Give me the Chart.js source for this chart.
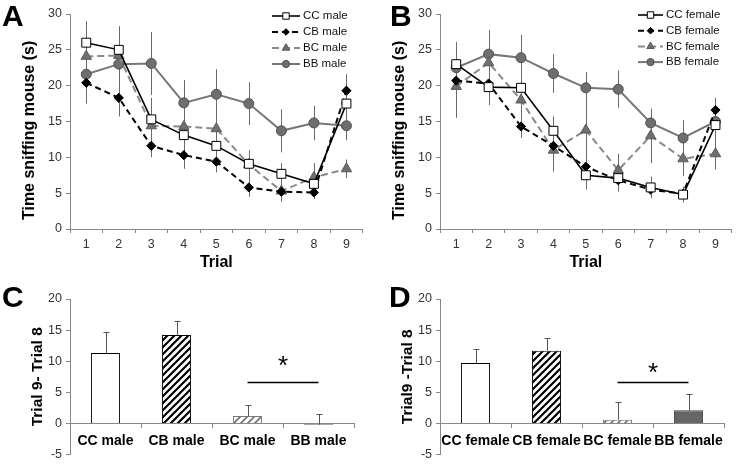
<!DOCTYPE html>
<html>
<head>
<meta charset="utf-8">
<script src="https://cdn.jsdelivr.net/npm/chart.js@4.4.1/dist/chart.umd.min.js"></script>
<style>
  body { margin: 0; background: #fff; }
  #page { position: relative; width: 739px; height: 466px; overflow: hidden; }
  canvas { position: absolute; }
  .tag { position: absolute; font: bold 30px "Liberation Sans", Arial, sans-serif; line-height: 30px; color: #000; }
</style>
</head>
<body>
<div id="page">
  <canvas id="chartA" width="370" height="272" style="left:0;top:0"></canvas>
  <canvas id="chartB" width="369" height="272" style="left:370px;top:0"></canvas>
  <canvas id="chartC" width="370" height="194" style="left:0;top:272px"></canvas>
  <canvas id="chartD" width="369" height="194" style="left:370px;top:272px"></canvas>
  <div class="tag" style="left:2px;top:1px">A</div>
  <div class="tag" style="left:390px;top:1px">B</div>
  <div class="tag" style="left:2px;top:282px">C</div>
  <div class="tag" style="left:389px;top:282px">D</div>
</div>
<script>
Chart.defaults.font.family = "'Liberation Sans', Arial, sans-serif";
Chart.defaults.color = '#333';

const trials = ['1', '2', '3', '4', '5', '6', '7', '8', '9'];

// A - males, mean and SEM per trial
const ccMale = [26.0, 25.0, 15.3, 13.1, 11.6, 9.1, 7.7, 6.3, 17.5];
const cbMale = [20.4, 18.3, 11.6, 10.3, 9.4, 5.8, 5.2, 5.1, 19.3];
const bcMale = [24.1, 24.2, 14.4, 14.3, 14.0, 9.0, 5.3, 7.2, 8.4];
const bbMale = [21.6, 23.0, 23.1, 17.6, 18.8, 17.5, 13.7, 14.8, 14.4];
const ccMaleErr = [3.0, 3.2, 3.0, 2.2, 2.3, 1.8, 1.5, 1.2, 3.0];
const cbMaleErr = [2.9, 2.6, 1.6, 1.9, 1.5, 1.3, 1.3, 0.9, 2.3];
const bcMaleErr = [2.0, 2.0, 2.5, 2.0, 3.0, 2.0, 1.5, 2.0, 1.3];
const bbMaleErr = [2.5, 5.3, 4.4, 3.2, 3.5, 3.0, 3.0, 2.4, 2.0];

// B - females
const ccFemale = [23.0, 19.8, 19.7, 13.7, 7.5, 7.1, 5.8, 4.8, 14.5];
const cbFemale = [20.7, 20.3, 14.3, 11.6, 8.7, 6.8, 5.5, 4.9, 16.6];
const bcFemale = [19.9, 23.2, 18.0, 11.0, 13.8, 8.2, 13.0, 9.8, 10.5];
const bbFemale = [22.5, 24.4, 23.9, 21.7, 19.7, 19.5, 14.8, 12.7, 15.0];
const ccFemaleErr = [2.0, 2.5, 2.5, 2.0, 2.0, 1.5, 1.5, 1.1, 2.0];
const cbFemaleErr = [1.5, 1.5, 1.6, 1.6, 1.5, 1.6, 1.0, 1.0, 1.7];
const bcFemaleErr = [4.4, 3.0, 3.0, 3.0, 8.1, 2.3, 3.8, 2.4, 2.2];
const bbFemaleErr = [3.6, 3.4, 3.2, 2.7, 1.9, 2.6, 1.9, 2.5, 2.0];

// C / D - difference trial 9 minus trial 8
const maleGroups = ['CC male', 'CB male', 'BC male', 'BB male'];
const femaleGroups = ['CC female', 'CB female', 'BC female', 'BB female'];
const maleDiff = [11.3, 14.2, 1.2, -0.2];
const maleDiffErr = [3.4, 2.3, 1.7, 1.7];
const femaleDiff = [9.7, 11.7, 0.6, 2.1];
const femaleDiffErr = [2.2, 2.0, 2.8, 2.6];

// significance bracket: from group, to group, line level, star level
const sigMale = [2, 3, 6.6, 9.1];
const sigFemale = [2, 3, 6.7, 8.0];

const styles = {
  CC: { borderColor: '#000', borderWidth: 1.6, pointStyle: 'rect', pointRadius: 6.3,
        pointBackgroundColor: '#fff', pointBorderColor: '#000' },
  CB: { borderColor: '#000', borderWidth: 2, borderDash: [6, 4], pointStyle: 'rectRot', pointRadius: 4.6,
        pointBackgroundColor: '#000', pointBorderColor: '#000' },
  BC: { borderColor: '#8a8a8a', borderWidth: 2, borderDash: [7, 4], pointStyle: 'triangle', pointRadius: 6,
        pointBackgroundColor: '#6f6f6f', pointBorderColor: '#5a5a5a' },
  BB: { borderColor: '#777', borderWidth: 2, pointStyle: 'circle', pointRadius: 5,
        pointBackgroundColor: '#6e6e6e', pointBorderColor: '#505050' }
};

// vertical error bars drawn through the y scale
const errorBars = {
  id: 'errorBars',
  beforeDatasetsDraw(chart, args, opts) { if (opts.behind) drawErrors(chart, opts); },
  afterDatasetsDraw(chart, args, opts) { if (!opts.behind) drawErrors(chart, opts); }
};

function drawErrors(chart, opts) {
  const ctx = chart.ctx;
  const y = chart.scales.y;
  ctx.save();
  ctx.strokeStyle = opts.color;
  ctx.lineWidth = 1;
  chart.data.datasets.forEach((ds, i) => {
    if (!ds.errors) return;
    chart.getDatasetMeta(i).data.forEach((el, j) => {
      const v = ds.data[j], e = ds.errors[j];
      const top = y.getPixelForValue(v + e);
      const bot = opts.upOnly ? y.getPixelForValue(v) : y.getPixelForValue(v - e);
      const x = Math.round(el.x) + 0.5;
      ctx.beginPath();
      ctx.moveTo(x, top);
      ctx.lineTo(x, bot);
      if (opts.cap) {
        ctx.moveTo(x - opts.cap, Math.round(top) + 0.5);
        ctx.lineTo(x + opts.cap, Math.round(top) + 0.5);
      }
      ctx.stroke();
    });
  });
  ctx.restore();
}

// legend drawn inside the plot, top right
const insideLegend = {
  id: 'insideLegend',
  afterDatasetsDraw(chart, args, o) {
    const ctx = chart.ctx;
    ctx.save();
    ctx.font = '11.5px "Liberation Sans", Arial, sans-serif';
    ctx.textBaseline = 'middle';
    chart.data.datasets.forEach((ds, i) => {
      const y = o.y + i * o.dy;
      ctx.setLineDash(ds.borderDash || []);
      ctx.strokeStyle = ds.borderColor;
      ctx.lineWidth = ds.borderWidth;
      ctx.beginPath();
      ctx.moveTo(o.x, y);
      ctx.lineTo(o.x + o.w, y);
      ctx.stroke();
      ctx.setLineDash([]);
      ctx.fillStyle = ds.pointBackgroundColor;
      ctx.strokeStyle = ds.pointBorderColor;
      ctx.lineWidth = 1;
      Chart.helpers.drawPoint(ctx, { pointStyle: ds.pointStyle, radius: ds.pointRadius * 0.72, rotation: 0, borderWidth: 1 },
        o.x + o.w / 2, y);
      ctx.fillStyle = '#111';
      ctx.fillText(ds.label, o.x + o.w + 3, y);
    });
    ctx.restore();
  }
};

// line + star over the two B-mother groups
const sigBracket = {
  id: 'sigBracket',
  afterDatasetsDraw(chart, args, o) {
    const xs = chart.scales.x, ys = chart.scales.y, ctx = chart.ctx;
    const x1 = xs.getPixelForValue(o.sig[0]), x2 = xs.getPixelForValue(o.sig[1]);
    const yy = Math.round(ys.getPixelForValue(o.sig[2])) + 0.5;
    ctx.save();
    ctx.strokeStyle = '#000';
    ctx.lineWidth = 1.3;
    ctx.beginPath();
    ctx.moveTo(x1, yy);
    ctx.lineTo(x2, yy);
    ctx.stroke();
    ctx.font = '26px "Liberation Sans", Arial, sans-serif';
    ctx.textAlign = 'center';
    ctx.textBaseline = 'middle';
    ctx.fillStyle = '#000';
    ctx.fillText('*', (x1 + x2) / 2, ys.getPixelForValue(o.sig[3]));
    ctx.restore();
  }
};

function series(label, data, errors, style) {
  return Object.assign({ label: label, data: data, errors: errors, tension: 0, pointBorderWidth: 1, fill: false }, style);
}

function lineChart(id, datasets, legendPos, padRight) {
  new Chart(document.getElementById(id), {
    type: 'line',
    data: { labels: trials, datasets: datasets },
    options: {
      responsive: false,
      animation: false,
      layout: { padding: { left: 0, right: padRight, top: 14, bottom: 0 } },
      plugins: {
        legend: { display: false },
        tooltip: { enabled: false },
        errorBars: { behind: true, color: '#6a6a6a' },
        insideLegend: legendPos
      },
      scales: {
        x: {
          offset: true,
          grid: { offset: true, drawOnChartArea: false, tickLength: 4, color: '#888' },
          border: { color: '#888' },
          ticks: { font: { size: 12.5 }, padding: 4, color: '#333' },
          title: { display: true, text: 'Trial', color: '#000', font: { size: 16, weight: 'bold' }, padding: { top: 0, bottom: 0 } },
          afterFit: s => { s.height = 43; }
        },
        y: {
          min: 0, max: 30,
          ticks: { stepSize: 5, font: { size: 12.5 }, padding: 4, color: '#333' },
          grid: { drawOnChartArea: false, tickLength: 4, color: '#888' },
          border: { color: '#888' },
          // trailing spaces push the rotated title a little lower, as in the figure
          title: { display: true, text: 'Time sniffing mouse (s)    ', color: '#000', font: { size: 16, weight: 'bold' }, padding: { top: 20, bottom: 0 } },
          afterFit: s => { s.width = 70; }
        }
      }
    },
    plugins: [errorBars, insideLegend]
  });
}

lineChart('chartA', [
  series('CC male', ccMale, ccMaleErr, styles.CC),
  series('CB male', cbMale, cbMaleErr, styles.CB),
  series('BC male', bcMale, bcMaleErr, styles.BC),
  series('BB male', bbMale, bbMaleErr, styles.BB)
], { x: 272, w: 28, y: 16, dy: 16 }, 4);

lineChart('chartB', [
  series('CC female', ccFemale, ccFemaleErr, styles.CC),
  series('CB female', cbFemale, cbFemaleErr, styles.CB),
  series('BC female', bcFemale, bcFemaleErr, styles.BC),
  series('BB female', bbFemale, bbFemaleErr, styles.BB)
], { x: 268, w: 25, y: 15, dy: 15.7 }, 3);

function hatch(color, width) {
  const c = document.createElement('canvas');
  c.width = 7; c.height = 7;
  const g = c.getContext('2d');
  g.fillStyle = '#fff';
  g.fillRect(0, 0, 7, 7);
  g.strokeStyle = color;
  g.lineWidth = width;
  g.beginPath();
  g.moveTo(-1, 8); g.lineTo(8, -1);
  g.moveTo(-4.5, 4.5); g.lineTo(4.5, -4.5);
  g.moveTo(2.5, 11.5); g.lineTo(11.5, 2.5);
  g.stroke();
  return g.createPattern(c, 'repeat');
}

function barChart(id, labels, values, errors, sig, title, padRight) {
  const canvas = document.getElementById(id);
  const fills = ['#fff', hatch('#000', 2.2), hatch('#777', 1.8), '#666'];
  new Chart(canvas, {
    type: 'bar',
    data: {
      labels: labels,
      datasets: [{
        data: values,
        errors: errors,
        backgroundColor: fills,
        borderColor: ['#000', '#000', '#777', '#444'],
        borderWidth: 1,
        barPercentage: 0.41,
        categoryPercentage: 1
      }]
    },
    options: {
      responsive: false,
      animation: false,
      layout: { padding: { left: 0, right: padRight, top: 27, bottom: 6 } },
      plugins: {
        legend: { display: false },
        tooltip: { enabled: false },
        errorBars: { behind: false, upOnly: true, cap: 3, color: '#555' },
        sigBracket: { sig: sig }
      },
      scales: {
        x: {
          position: { y: 0 },
          grid: { offset: true, drawOnChartArea: false, tickLength: 4, color: '#888' },
          border: { color: '#888' },
          ticks: { font: { size: 14, weight: 'bold' }, color: '#000', padding: 5, maxRotation: 0, autoSkip: false }
        },
        y: {
          min: -5, max: 20,
          ticks: { stepSize: 5, font: { size: 12.5 }, padding: 4, color: '#333' },
          grid: { drawOnChartArea: false, tickLength: 4, color: '#888' },
          border: { color: '#888' },
          title: { display: true, text: title, color: '#000', font: { size: 15.5, weight: 'bold' }, padding: { top: 28, bottom: 0 } },
          afterFit: s => { s.width = 70; }
        }
      }
    },
    plugins: [errorBars, sigBracket]
  });
}

barChart('chartC', maleGroups, maleDiff, maleDiffErr, sigMale, 'Trial 9- Trial 8', 16);
barChart('chartD', femaleGroups, femaleDiff, femaleDiffErr, sigFemale, 'Trial9 -Trial 8', 15);
</script>
</body>
</html>
